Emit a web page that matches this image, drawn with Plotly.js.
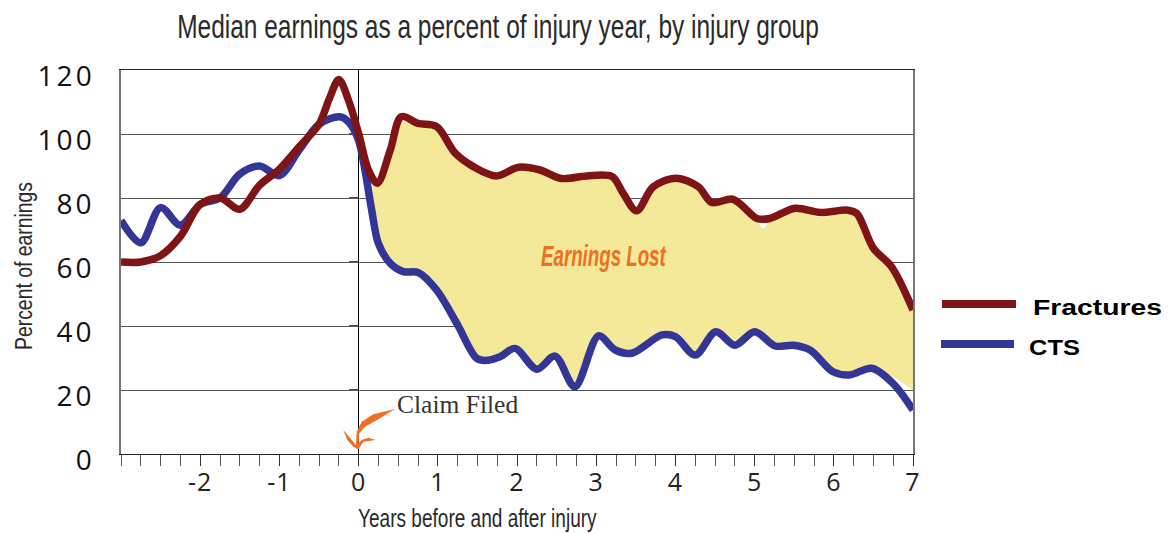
<!DOCTYPE html>
<html><head><meta charset="utf-8">
<script src="https://cdn.plot.ly/plotly-3.0.1.min.js"></script>
<style>html,body{margin:0;padding:0;background:#fff}
.ytick text{letter-spacing:3px}
.xtick text{letter-spacing:1px}</style></head>
<body><div id="chart" style="width:1168px;height:533px"></div>
<script>
const fracturesYears = [-3,-2.75,-2.5,-2.25,-2,-1.75,-1.5,-1.25,-1,-0.75,-0.5,-0.37,-0.25,-0.12,0,0.12,0.236,0.4,0.54,0.75,0.986,1.22,1.45,1.74,2.02,2.29,2.56,2.88,3.2,3.34,3.51,3.72,4.01,4.29,4.46,4.73,5.03,5.19,5.51,5.83,6.18,6.29,6.5,6.73,7];
const fracturesValues = [60,60,62,68,78,80,76.5,84,89,96,103,111,117,110,100.2,89,84.6,95,105.4,103.3,102.3,94,89.8,86.9,89.6,88.75,86.1,86.9,86.7,81.5,76,83.5,86.2,83.5,78.6,79.6,73.6,73.6,76.8,75.5,76.2,75.2,64.3,58.5,45];
const ctsYears = [-3,-2.75,-2.5,-2.25,-2,-1.75,-1.5,-1.25,-1,-0.75,-0.5,-0.235,-0.11,0,0.08,0.165,0.25,0.4,0.565,0.755,0.985,1.24,1.49,1.6,1.785,1.975,2.25,2.48,2.73,3.03,3.24,3.45,3.83,4,4.25,4.51,4.75,5,5.26,5.49,5.7,5.99,6.2,6.48,6.75,7];
const ctsValues = [73,66,77,71.5,78,80,87.5,90,87,95,103,105.4,103.3,98,88.75,76.25,65.8,59.6,57,56.7,51.25,40.8,29.9,29.2,30.4,33,26.5,30.6,21,36.9,32.5,31.5,37.2,36.7,30.9,38.2,34,38.2,33.75,34,32.5,25.7,24.7,26.8,22,13.75];
const lostUpperYears = [0.17,0.236,0.4,0.54,0.75,0.986,1.22,1.45,1.74,2.02,2.29,2.56,2.88,3.2,3.34,3.51,3.72,4.01,4.29,4.46,4.73,5.03,5.11,5.19,5.51,5.83,6.18,6.29,6.5,6.73,7];
const lostUpper = [85,83.5,94,104,102.3,101.3,93,89,86,88.6,87.75,85.1,85.9,85.7,80.5,75,82.5,85.2,82.5,77.6,78.6,72.6,70.5,72.6,75.8,74,75.2,74.2,63.3,57.5,45];
const lostLowerYears = [0.17,0.25,0.4,0.565,0.755,0.985,1.24,1.49,1.6,1.785,1.975,2.25,2.48,2.73,3.03,3.24,3.45,3.83,4,4.25,4.51,4.75,5,5.26,5.49,5.7,5.99,6.2,6.48,6.75,7];
const lostLower = [75,65.8,59.6,57,56.7,51.25,40.8,29.9,29.2,30.4,33,26.5,30.6,21,36.9,32.5,31.5,37.2,36.7,30.9,38.2,34,38.2,33.75,34,32.5,25.7,24.7,26.8,24,20];
const xTicks = [-2,-1,0,1,2,3,4,5,6,7];
const xTickLabels = ["-2","-1","0","1","2","3","4","5","6","7"];
const yTicks = [0,20,40,60,80,100,120];

const RED = '#7f1416', BLUE = '#333597', FILL = '#f3e998', ORANGE = '#ee7023';
const SANS = '"Liberation Sans",sans-serif';
const SMOOTH = 0.9;
const W = 1168, H = 533, L = 121, R = 913, T = 70, B = 454;
const px = v => (v - L) / (R - L) * 10 - 3;
const py = v => (B - v) / (B - T) * 120;
const arrowPts = [[395,409],[373.3,414.3],[361.7,421.7],[356.7,431.7],[356,445],[343.3,430],[347.3,440],[353.3,446.7],[358.3,449.5],[363.3,441.7],[375.7,440],[368.3,437.7],[361.7,440],[358.6,443.3],[359.3,433.3],[365,426.7],[380,418.3]];
const arrowPath = 'M' + arrowPts.map(p => px(p[0]) + ',' + py(p[1])).join('L') + 'Z';

const traces = [
  {x: lostUpperYears, y: lostUpper, mode:'lines', line:{width:0, shape:'spline', smoothing:SMOOTH}, hoverinfo:'skip', showlegend:false},
  {x: lostLowerYears, y: lostLower, mode:'lines', line:{width:0, shape:'spline', smoothing:SMOOTH}, fill:'tonexty', fillcolor:FILL, hoverinfo:'skip', showlegend:false},
  {x: ctsYears, y: ctsValues, name:'CTS', mode:'lines', line:{color:BLUE, width:7.5, shape:'spline', smoothing:SMOOTH}, showlegend:false},
  {x: fracturesYears, y: fracturesValues, name:'Fractures', mode:'lines', line:{color:RED, width:7.5, shape:'spline', smoothing:SMOOTH}, showlegend:false}
];
const pa = (x, y, text, font, extra) => Object.assign({xref:'paper', yref:'paper', x:(x-L)/(R-L), y:(B-y)/(B-T), text, showarrow:false, font, xanchor:'left', yanchor:'middle'}, extra||{});
const layout = {
  width:W, height:H, margin:{l:L, r:W-R, t:T, b:H-B}, paper_bgcolor:'#fff', plot_bgcolor:'#fff', showlegend:false,
  title:{text:'Median earnings as a percent of injury year, by injury group', font:{family:SANS, size:33, color:'#2a2a2a'}, x:498/W, xanchor:'center', y:1-27/H, yanchor:'middle'},
  xaxis:{range:[-3,7], tickmode:'array', tickvals:xTicks, ticktext:xTickLabels, ticks:'outside', ticklen:11, tickcolor:'#333', tickwidth:1,
    minor:{dtick:0.25, ticks:'outside', ticklen:11, tickcolor:'#555', tickwidth:1, showgrid:false},
    showgrid:false, zeroline:true, zerolinecolor:'#000', zerolinewidth:1, showline:true, mirror:true, linecolor:'#222', linewidth:1, ticklabelstandoff:-5,
    tickfont:{family:'"Open Sans",sans-serif', size:25, color:'#222'},
    title:{text:'Years before and after injury', font:{family:SANS, size:25, color:'#2a2a2a'}, standoff:6}},
  yaxis:{range:[0,120], tickmode:'array', tickvals:yTicks, ticks:'', showgrid:true, gridcolor:'#555', gridwidth:1, zeroline:true, zerolinecolor:'#000', zerolinewidth:1,
    showline:true, mirror:true, linecolor:'#777', linewidth:1.5, ticklabelstandoff:19, ticklabelshift:6,
    tickfont:{family:'"Open Sans",sans-serif', size:28, color:'#111'},
    title:{text:'Percent of earnings', font:{family:SANS, size:24, color:'#2a2a2a'}, standoff:14}},
  shapes:[
    {type:'path', xref:'x', yref:'y', path:arrowPath, fillcolor:ORANGE, line:{width:0}},
    {type:'line', xref:'paper', yref:'paper', x0:(942-L)/(R-L), x1:(1016-L)/(R-L), y0:(B-304)/(B-T), y1:(B-304)/(B-T), line:{color:RED, width:8}},
    {type:'line', xref:'paper', yref:'paper', x0:(941-L)/(R-L), x1:(1014-L)/(R-L), y0:(B-344)/(B-T), y1:(B-344)/(B-T), line:{color:BLUE, width:8}}
  ].concat(yTicks.slice(1,6).map(v => ({type:'line', xref:'x', yref:'y', x0:-0.12, x1:0, y0:v, y1:v, line:{color:'#111', width:1.5}, layer:'below'}))),
  annotations:[
    pa(541,256,'<b><i>Earnings Lost</i></b>',{family:SANS, size:30, color:ORANGE}),
    pa(395,404,'Claim Filed',{family:'"Liberation Serif",serif', size:25.5, color:'#333'}),
    pa(1033,308,'<b>Fractures</b>',{family:SANS, size:22, color:'#000'}),
    pa(1029,348,'<b>CTS</b>',{family:SANS, size:22, color:'#000'})
  ]
};
// The original's condensed/extended lettering: fit each real text element to its box.
function fitH(el, x0, x1, cy) {
  const r = el.getBoundingClientRect(), m = el.parentNode.getScreenCTM();
  const s = (x1 - x0) / r.width, c0 = r.left + r.width/2 - m.e, c1 = (x0 + x1)/2 - m.e;
  const dy = cy - (r.top + r.height/2);
  el.setAttribute('transform', `translate(${c1},${dy}) scale(${s},1) translate(${-c0},0) ` + (el.getAttribute('transform') || ''));
}
function fitV(el, y0, y1, cx) {
  const r = el.getBoundingClientRect(), m = el.parentNode.getScreenCTM();
  const s = (y1 - y0) / r.height, c0 = r.top + r.height/2 - m.f, c1 = (y0 + y1)/2 - m.f;
  const dx = cx - (r.left + r.width/2);
  el.setAttribute('transform', `translate(${dx},${c1}) scale(1,${s}) translate(0,${-c0}) ` + (el.getAttribute('transform') || ''));
}
Plotly.newPlot('chart', traces, layout, {displayModeBar:false, responsive:false}).then(() => {
  const q = s => document.querySelector(s);
  fitH(q('.gtitle'), 177, 819, 27);
  fitH(q('.xtitle'), 358, 597, 518);
  fitV(q('.ytitle'), 182, 350, 24);
  const ann = [...document.querySelectorAll('.annotation-text')];
  const find = t => ann.find(e => e.textContent === t);
  fitH(find('Earnings Lost'), 541, 667, 256);
  fitH(find('Fractures'), 1033, 1162, 308);
  fitH(find('CTS'), 1029, 1080, 348);
});
</script></body></html>
